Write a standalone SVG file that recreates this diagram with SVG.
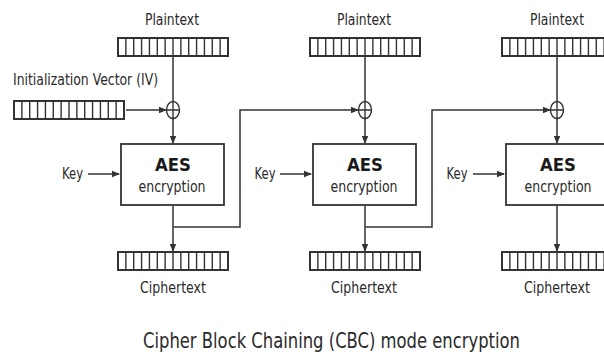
<svg xmlns="http://www.w3.org/2000/svg" xmlns:xlink="http://www.w3.org/1999/xlink" width="604" height="360" viewBox="0 0 604 360">
<style>
text{font-family:"DejaVu Sans",sans-serif;fill:#2a2a2a;text-anchor:middle}
.lbl{font-size:16px}
.aes{font-size:17px;font-weight:bold;fill:#1a1a1a}
.enc{font-size:16px}
.title{font-size:22px;text-anchor:start}
.ln{fill:none;stroke:#333;stroke-width:1.5}
.box{fill:#fff;stroke:#333;stroke-width:1.8}
.xor{fill:#fff;stroke:#333;stroke-width:1.4}
.reg{fill:#fff;stroke:#333;stroke-width:2}
.cell{fill:none;stroke:#333;stroke-width:1.4}
</style>
<defs>
<marker id="ah" viewBox="0 0 8 8" refX="7" refY="4" markerWidth="8" markerHeight="8" markerUnits="userSpaceOnUse" orient="auto">
<path d="M0 0.8L8 4L0 7.2Z" fill="#333"/>
</marker>
<g id="reg">
<rect class="reg" x="0" y="0" width="110" height="18"/>
<path class="cell" d="M7.86 0v18M15.71 0v18M23.57 0v18M31.43 0v18M39.29 0v18M47.14 0v18M55 0v18M62.86 0v18M70.71 0v18M78.57 0v18M86.43 0v18M94.29 0v18M102.14 0v18"/>
</g>
<g id="xorsym">
<ellipse class="xor" cx="0" cy="0" rx="6.5" ry="8.5"/>
<path class="cell" d="M-6.5 0H6.5M0 -8.5V8.5"/>
</g>
</defs>
<rect width="604" height="360" fill="#fff"/>

<g id="connectors">
<path class="ln" d="M173 57V101.5"/>
<path class="ln" d="M126 110H166" marker-end="url(#ah)"/>
<path class="ln" d="M173 118.5V143" marker-end="url(#ah)"/>
<path class="ln" d="M88 174H119" marker-end="url(#ah)"/>
<path class="ln" d="M173 206V251" marker-end="url(#ah)"/>
<path class="ln" d="M173 227H240V110H358" marker-end="url(#ah)"/>
<path class="ln" d="M365 57V101.5"/>
<path class="ln" d="M365 118.5V143" marker-end="url(#ah)"/>
<path class="ln" d="M280 174H311" marker-end="url(#ah)"/>
<path class="ln" d="M365 206V251" marker-end="url(#ah)"/>
<path class="ln" d="M365 227H432V110H550" marker-end="url(#ah)"/>
<path class="ln" d="M557 57V101.5"/>
<path class="ln" d="M557 118.5V143" marker-end="url(#ah)"/>
<path class="ln" d="M473 174H504" marker-end="url(#ah)"/>
<path class="ln" d="M557 206V251" marker-end="url(#ah)"/>
</g>

<g id="iv">
<text class="lbl" x="13" y="85" style="text-anchor:start" textLength="145" lengthAdjust="spacingAndGlyphs">Initialization Vector (IV)</text>
<use xlink:href="#reg" x="14" y="101"/>
</g>

<g id="block1">
<text class="lbl" x="172" y="25" textLength="54" lengthAdjust="spacingAndGlyphs">Plaintext</text>
<use xlink:href="#reg" x="118" y="38"/>
<use xlink:href="#xorsym" x="173" y="110"/>
<text class="lbl" x="72.5" y="179" textLength="21" lengthAdjust="spacingAndGlyphs">Key</text>
<rect class="box" x="121" y="144" width="103" height="61"/>
<text class="aes" x="173" y="171" textLength="36" lengthAdjust="spacingAndGlyphs">AES</text>
<text class="enc" x="172" y="192" textLength="67" lengthAdjust="spacingAndGlyphs">encryption</text>
<use xlink:href="#reg" x="118" y="252"/>
<text class="lbl" x="173" y="293" textLength="66" lengthAdjust="spacingAndGlyphs">Ciphertext</text>
</g>

<g id="block2">
<text class="lbl" x="364" y="25" textLength="54" lengthAdjust="spacingAndGlyphs">Plaintext</text>
<use xlink:href="#reg" x="310" y="38"/>
<use xlink:href="#xorsym" x="365" y="110"/>
<text class="lbl" x="265" y="179" textLength="21" lengthAdjust="spacingAndGlyphs">Key</text>
<rect class="box" x="313" y="144" width="103" height="61"/>
<text class="aes" x="365" y="171" textLength="36" lengthAdjust="spacingAndGlyphs">AES</text>
<text class="enc" x="364" y="192" textLength="67" lengthAdjust="spacingAndGlyphs">encryption</text>
<use xlink:href="#reg" x="310" y="252"/>
<text class="lbl" x="364" y="293" textLength="66" lengthAdjust="spacingAndGlyphs">Ciphertext</text>
</g>

<g id="block3">
<text class="lbl" x="557" y="25" textLength="54" lengthAdjust="spacingAndGlyphs">Plaintext</text>
<use xlink:href="#reg" x="502" y="38"/>
<use xlink:href="#xorsym" x="557" y="110"/>
<text class="lbl" x="457" y="179" textLength="21" lengthAdjust="spacingAndGlyphs">Key</text>
<rect class="box" x="506" y="144" width="103" height="61"/>
<text class="aes" x="558" y="171" textLength="36" lengthAdjust="spacingAndGlyphs">AES</text>
<text class="enc" x="558" y="192" textLength="67" lengthAdjust="spacingAndGlyphs">encryption</text>
<use xlink:href="#reg" x="502" y="252"/>
<text class="lbl" x="557" y="293" textLength="66" lengthAdjust="spacingAndGlyphs">Ciphertext</text>
</g>

<g id="title">
<text class="title" x="143" y="348" textLength="377" lengthAdjust="spacingAndGlyphs">Cipher Block Chaining (CBC) mode encryption</text>
</g>
</svg>
